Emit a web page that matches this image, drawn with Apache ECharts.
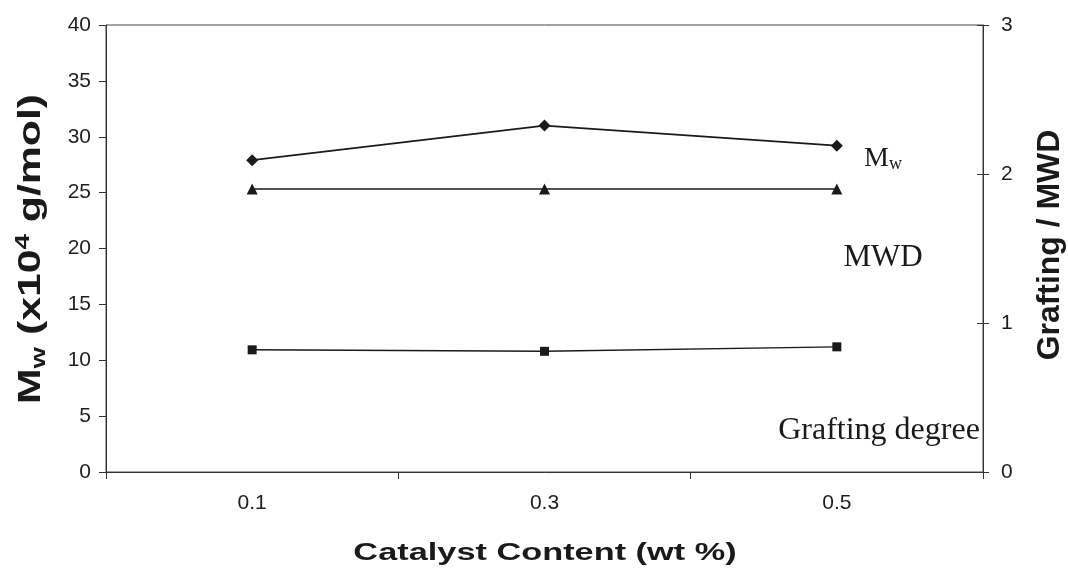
<!DOCTYPE html>
<html>
<head>
<meta charset="utf-8">
<script src="https://cdn.jsdelivr.net/npm/echarts@6/dist/echarts.min.js"></script>
<style>
  html, body { margin: 0; padding: 0; background: #fff; }
  #chart { width: 1068px; height: 576px; }
</style>
</head>
<body>
<div id="chart"></div>
<script>
// Catalyst loading (wt %)
const categories = ['0.1', '0.3', '0.5'];
// Weight-average molecular weight, x10^4 g/mol (left axis)
const mwValues = [27.9, 31.0, 29.2];
// Molecular weight distribution (right axis)
const mwdValues = [1.9, 1.9, 1.9];
// Grafting degree (right axis)
const graftingValues = [0.82, 0.81, 0.84];

const ink = '#1a1a1a';
const sans = 'Liberation Sans, Arial, sans-serif';
const serif = 'Liberation Serif, Times New Roman, serif';

const chart = echarts.init(document.getElementById('chart'), null, { renderer: 'canvas' });

chart.setOption({
  animation: false,
  backgroundColor: '#fff',
  grid: {
    left: 106, right: 85, top: 25, bottom: 104,
    show: true, borderColor: '#444', borderWidth: 1, backgroundColor: 'transparent'
  },
  xAxis: {
    type: 'category',
    data: categories,
    boundaryGap: true,
    axisLine: { lineStyle: { color: '#333', width: 1 } },
    axisTick: { show: true, interval: 0, length: 7, lineStyle: { color: '#333' } },
    axisLabel: { color: '#1e1e1e', fontFamily: sans, fontSize: 21, margin: 21 },
    splitLine: { show: false }
  },
  yAxis: [
    {
      type: 'value', min: 0, max: 40, interval: 5, position: 'left',
      axisLine: { show: true, lineStyle: { color: '#333', width: 1 } },
      axisTick: { show: true, length: 7, lineStyle: { color: '#333' } },
      axisLabel: { color: '#1e1e1e', fontFamily: sans, fontSize: 21, margin: 15 },
      splitLine: { show: false }
    },
    {
      type: 'value', min: 0, max: 3, interval: 1, position: 'right',
      axisLine: { show: true, lineStyle: { color: '#333', width: 1 } },
      axisTick: { show: true, length: 6, lineStyle: { color: '#333' } },
      axisLabel: { color: '#1e1e1e', fontFamily: sans, fontSize: 21, margin: 18 },
      splitLine: { show: false }
    },
    {
      // inner half of the crossing ticks on the right-hand scale
      type: 'value', min: 0, max: 3, interval: 1, position: 'right',
      axisLine: { show: false },
      axisTick: { show: true, inside: true, length: 6, lineStyle: { color: '#333' } },
      axisLabel: { show: false },
      splitLine: { show: false }
    }
  ],
  series: [
    {
      name: 'Mw', type: 'line', yAxisIndex: 0, data: mwValues,
      symbol: 'diamond', symbolSize: 12,
      lineStyle: { color: ink, width: 1.7 }, itemStyle: { color: ink }
    },
    {
      name: 'MWD', type: 'line', yAxisIndex: 1, data: mwdValues,
      symbol: 'triangle', symbolSize: 11,
      lineStyle: { color: ink, width: 1.5 }, itemStyle: { color: ink }
    },
    {
      name: 'Grafting degree', type: 'line', yAxisIndex: 1, data: graftingValues,
      symbol: 'rect', symbolSize: 9,
      lineStyle: { color: ink, width: 1.4 }, itemStyle: { color: ink }
    }
  ],
  graphic: [
    {
      type: 'text', x: 31, y: 249, rotation: Math.PI / 2, scaleX: 1.38,
      style: {
        text: '{b|M}{s|w}{b| (x10}{p|4}{b| g/mol)}',
        align: 'center', verticalAlign: 'middle',
        rich: {
          b: { fontFamily: sans, fontWeight: 'bold', fontSize: 31, fill: ink, lineHeight: 40, verticalAlign: 'middle' },
          s: { fontFamily: sans, fontWeight: 'bold', fontSize: 20, fill: ink, lineHeight: 40, verticalAlign: 'bottom', padding: [0, 0, 2, 0] },
          p: { fontFamily: sans, fontWeight: 'bold', fontSize: 20, fill: ink, lineHeight: 40, verticalAlign: 'top', padding: [2, 0, 0, 0] }
        }
      }
    },
    {
      type: 'text', x: 1050, y: 245, rotation: Math.PI / 2, scaleX: 1.03,
      style: {
        text: 'Grafting / MWD', fontFamily: sans, fontWeight: 'bold', fontSize: 31,
        fill: ink, align: 'center', verticalAlign: 'middle'
      }
    },
    {
      type: 'text', x: 545, y: 553, scaleX: 1.43,
      style: {
        text: 'Catalyst Content (wt %)', fontFamily: sans, fontWeight: 'bold', fontSize: 24,
        fill: ink, align: 'center', verticalAlign: 'middle'
      }
    },
    {
      type: 'text', x: 864, y: 159,
      style: {
        text: '{m|M}{w|w}',
        align: 'left', verticalAlign: 'middle',
        rich: {
          m: { fontFamily: serif, fontSize: 28, fill: ink, lineHeight: 32, verticalAlign: 'middle' },
          w: { fontFamily: serif, fontSize: 18, fill: ink, lineHeight: 32, verticalAlign: 'bottom', padding: [0, 0, 2, 0] }
        }
      }
    },
    {
      type: 'text', x: 883, y: 258,
      style: {
        text: 'MWD', fontFamily: serif, fontSize: 31, fill: ink,
        align: 'center', verticalAlign: 'middle'
      }
    },
    {
      type: 'text', x: 879, y: 431,
      style: {
        text: 'Grafting degree', fontFamily: serif, fontSize: 32, fill: ink,
        align: 'center', verticalAlign: 'middle'
      }
    }
  ]
});
</script>
</body>
</html>
